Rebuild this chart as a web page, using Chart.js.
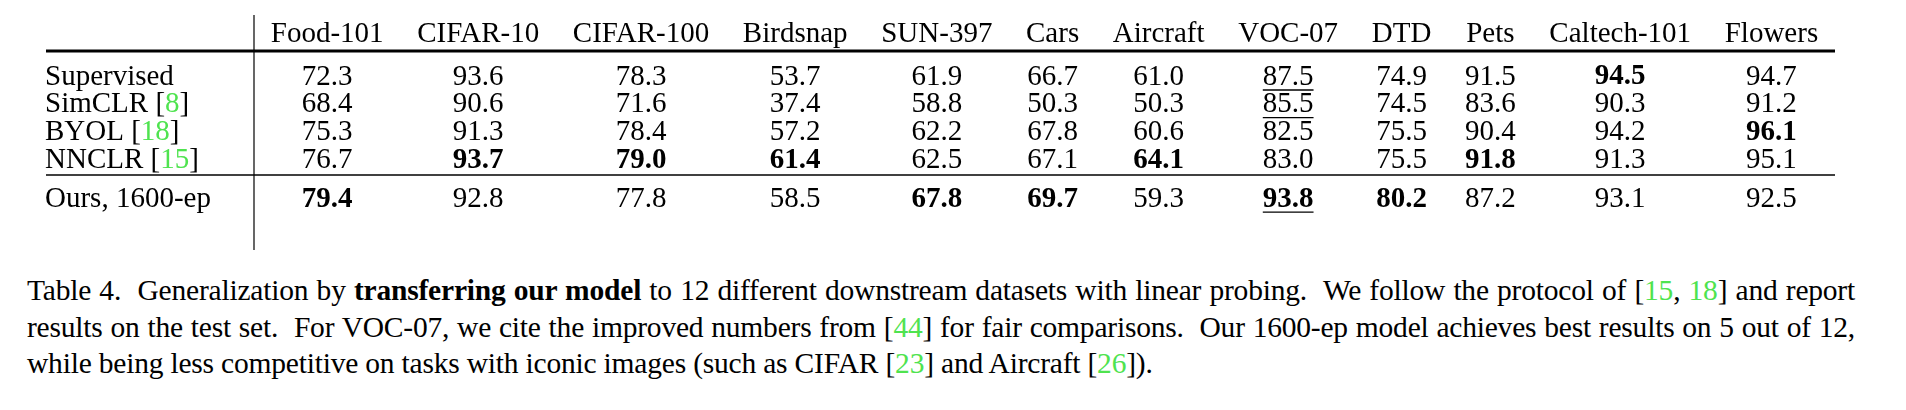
<!DOCTYPE html>
<html><head><meta charset="utf-8">
<script src="https://cdn.jsdelivr.net/npm/chart.js@4"></script>
<style>
body{margin:0;background:#fff;width:1906px;height:410px;overflow:hidden;position:relative}
#c{position:absolute;left:0;top:0}
#cap{position:absolute;left:27px;top:272px;width:1828px;font:29.5px "Liberation Serif",serif;line-height:36.5px;text-align:justify;color:#000;letter-spacing:-0.2px}
.g{color:#4fe34f}
</style></head><body>
<canvas id="c" width="1906" height="260"></canvas>
<div id="cap">Table 4.&nbsp; Generalization by <b>transferring our model</b> to 12 different downstream datasets with linear probing.&nbsp; We follow the protocol of [<span class="g">15</span>, <span class="g">18</span>] and report results on the test set.&nbsp; For VOC-07, we cite the improved numbers from [<span class="g">44</span>] for fair comparisons.&nbsp; Our 1600-ep model achieves best results on 5 out of 12, while being less competitive on tasks with iconic images (such as CIFAR [<span class="g">23</span>] and Aircraft [<span class="g">26</span>]).</div>
<script>
const datasets = ["Food-101","CIFAR-10","CIFAR-100","Birdsnap","SUN-397","Cars","Aircraft","VOC-07","DTD","Pets","Caltech-101","Flowers"];
const methods = ["Supervised","SimCLR","BYOL","NNCLR","Ours, 1600-ep"];
const refs = ["", "8", "18", "15", ""];
const supervised = [72.3,93.6,78.3,53.7,61.9,66.7,61.0,87.5,74.9,91.5,94.5,94.7];
const simclr     = [68.4,90.6,71.6,37.4,58.8,50.3,50.3,85.5,74.5,83.6,90.3,91.2];
const byol       = [75.3,91.3,78.4,57.2,62.2,67.8,60.6,82.5,75.5,90.4,94.2,96.1];
const nnclr      = [76.7,93.7,79.0,61.4,62.5,67.1,64.1,83.0,75.5,91.8,91.3,95.1];
const ours       = [79.4,92.8,77.8,58.5,67.8,69.7,59.3,93.8,80.2,87.2,93.1,92.5];
const values = [supervised, simclr, byol, nnclr, ours];
const boldCells = [[0,10],[2,11],[3,1],[3,2],[3,3],[3,6],[3,9],[4,0],[4,4],[4,5],[4,7],[4,8]];
const underCells = [[0,7],[1,7],[4,7]];

const FONT = '"Liberation Serif", serif';
const FS = 29;
const isIn = (arr,r,c)=>arr.some(a=>a[0]===r&&a[1]===c);

// column layout like a stretched LaTeX tabular
const mctx = document.createElement('canvas').getContext('2d');
const startX = 254, tableRight = 1835;
const widths = datasets.map((d,c)=>{
  mctx.font = FS+'px '+FONT;
  let w = mctx.measureText(d).width;
  values.forEach((row,r)=>{
    mctx.font = (isIn(boldCells,r,c)?'bold ':'')+FS+'px '+FONT;
    w = Math.max(w, mctx.measureText(row[c].toFixed(1)).width);
  });
  return w;
});
const sep = (tableRight - startX - widths.reduce((a,b)=>a+b,0)) / datasets.length;
const centers = [];
let xCursor = startX;
widths.forEach(w=>{ centers.push(xCursor + sep/2 + w/2); xCursor += w + sep; });

const rowY = r => r + 1.55 + (r === methods.length-1 ? 0.41 : 0);
const pts = [];
values.forEach((row,r)=>row.forEach((v,c)=>pts.push({x:centers[c], y:rowY(r), r, c, v})));

const tablePlugin = {
  id:'table',
  afterDatasetsDraw(chart){
    const ctx = chart.ctx, xs = chart.scales.x, ys = chart.scales.y;
    ctx.save();
    ctx.fillStyle = '#000'; ctx.strokeStyle = '#000';
    ctx.textBaseline = 'middle'; ctx.textAlign = 'center';
    ctx.font = FS+'px '+FONT;
    datasets.forEach((d,c)=>ctx.fillText(d, xs.getPixelForValue(centers[c]), ys.getPixelForValue(0)));
    chart.getDatasetMeta(0).data.forEach((el,i)=>{
      const p = pts[i];
      ctx.font = (isIn(boldCells,p.r,p.c)?'bold ':'')+FS+'px '+FONT;
      const t = p.v.toFixed(1);
      ctx.fillText(t, el.x, el.y);
      if (isIn(underCells,p.r,p.c)){
        const w = ctx.measureText(t).width;
        ctx.lineWidth = 1.4;
        ctx.beginPath(); ctx.moveTo(el.x-w/2, el.y+13); ctx.lineTo(el.x+w/2, el.y+13); ctx.stroke();
      }
    });
    ctx.textAlign = 'left';
    methods.forEach((m,r)=>{
      const y = ys.getPixelForValue(rowY(r));
      let x = 45;
      ctx.font = FS+'px '+FONT; ctx.fillStyle = '#000';
      ctx.fillText(m, x, y); x += ctx.measureText(m).width;
      if (refs[r]){
        [[' [','#000'],[refs[r],'#4fe34f'],[']','#000']].forEach(([s,col])=>{ctx.fillStyle=col; ctx.fillText(s,x,y); x+=ctx.measureText(s).width;});
      }
    });
    const L = 46, R = xs.getPixelForValue(tableRight);
    ctx.lineWidth = 3;
    ctx.beginPath(); ctx.moveTo(L, ys.getPixelForValue(0.614)); ctx.lineTo(R, ys.getPixelForValue(0.614)); ctx.stroke();
    ctx.lineWidth = 1.5;
    ctx.beginPath(); ctx.moveTo(L, ys.getPixelForValue(5.09)); ctx.lineTo(R, ys.getPixelForValue(5.09)); ctx.stroke();
    ctx.lineWidth = 1.2;
    const vx = xs.getPixelForValue(startX);
    ctx.beginPath(); ctx.moveTo(vx, ys.getPixelForValue(-0.686)); ctx.lineTo(vx, ys.getPixelForValue(7.8)); ctx.stroke();
    ctx.restore();
  }
};

new Chart(document.getElementById('c'), {
  type:'scatter',
  data:{datasets:[{data:pts, pointRadius:0, pointHoverRadius:0}]},
  options:{
    responsive:false, animation:false, devicePixelRatio:1,
    layout:{padding:0},
    plugins:{legend:{display:false}, tooltip:{enabled:false}},
    scales:{
      x:{type:'linear', display:false, min:0, max:1906},
      y:{type:'linear', display:false, reverse:true, min:-34/27.7, max:(260-34)/27.7}
    }
  },
  plugins:[tablePlugin]
});
</script>
</body></html>
